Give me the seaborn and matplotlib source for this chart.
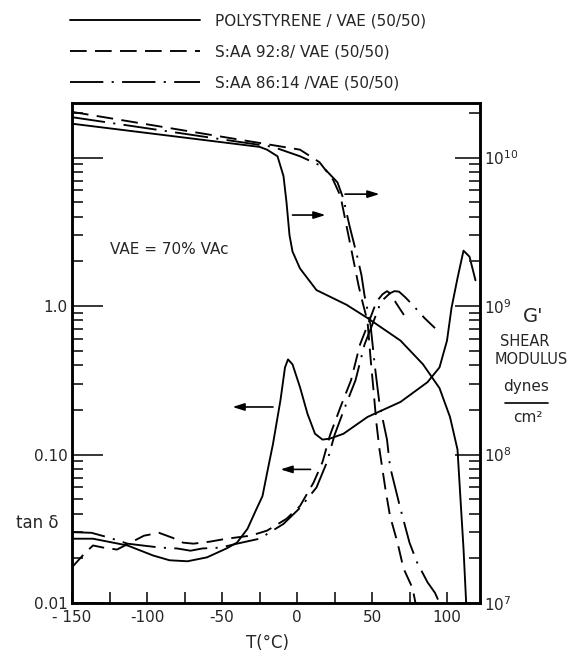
import numpy as np
import pandas as pd
import matplotlib
matplotlib.use("Agg")
import matplotlib.pyplot as plt
import seaborn as sns
from matplotlib.lines import Line2D
from matplotlib.ticker import FixedLocator, LogLocator, NullFormatter

# ---------------- data ----------------
series_labels = ["POLYSTYRENE / VAE (50/50)", "S:AA 92:8/ VAE (50/50)", "S:AA 86:14 /VAE (50/50)"]

# tan delta (left axis)
ps_tan_T = [-150, -136, -113, -96, -85, -73, -60, -47, -40, -33, -27, -23, -20, -16, -11, -8, -6, -3,
            2, 7, 12, 17, 22, 31, 47, 69, 87, 95, 100, 103, 107, 111, 115, 119]
ps_tan = [0.0271, 0.0271, 0.0244, 0.0209, 0.0194, 0.0191, 0.0203, 0.0233, 0.0255, 0.0316, 0.0430, 0.0525,
          0.0746, 0.118, 0.233, 0.386, 0.437, 0.405, 0.284, 0.188, 0.138, 0.126, 0.128, 0.138, 0.179,
          0.226, 0.307, 0.386, 0.585, 0.97, 1.54, 2.36, 2.15, 1.49]

s92_tan_T = [-150, -141, -136, -129, -120, -111, -102, -92, -83, -76, -69, -58, -47, -31, -20, -7, 2,
             11, 17, 22, 29, 36, 42, 47, 53, 57, 60, 63, 66, 74]
s92_tan = [0.0174, 0.0219, 0.0244, 0.0236, 0.0229, 0.0255, 0.0284, 0.0297, 0.0275, 0.0255, 0.0251,
           0.0259, 0.0271, 0.0284, 0.0307, 0.0369, 0.045, 0.0646, 0.089, 0.135, 0.209, 0.316, 0.55,
           0.74, 1.07, 1.2, 1.26, 1.2, 1.05, 0.79]

s86_tan_T = [-150, -137, -125, -113, -103, -91, -80, -71, -63, -51, -40, -25, -9, 2,
             13, 20, 25, 32, 39, 45, 50, 56, 62, 65, 68, 72, 77, 85, 92]
s86_tan = [0.0300, 0.0297, 0.0275, 0.0251, 0.0244, 0.0236, 0.0233, 0.0225, 0.0233, 0.0236, 0.0251,
           0.0271, 0.0341, 0.0437, 0.0600, 0.089, 0.135, 0.209, 0.316, 0.55, 0.74, 1.07, 1.22, 1.26,
           1.25, 1.15, 1.02, 0.83, 0.71]

# shear modulus G' (right axis, dynes/cm^2)
ps_mod_T = [-150, -25, -20, -13, -9, -7, -5, -3, 2, 13, 33, 47, 69, 84, 95, 102, 107, 109, 111, 113]
ps_mod = [1.69e10, 1.18e10, 1.13e10, 1.02e10, 7.5e9, 5.0e9, 3.0e9, 2.33e9, 1.79e9, 1.28e9, 1.02e9, 8.3e8,
          5.85e8, 4.05e8, 2.8e8, 1.79e8, 1.08e8, 5.0e7, 2.33e7, 9.0e6]

s92_mod_T = [-150, 2, 15, 24, 29, 33, 37, 41, 43, 47, 49, 51, 53, 55, 59, 62, 67, 71, 77, 79]
s92_mod = [2.03e10, 1.13e10, 9.3e9, 7.1e9, 5.5e9, 3.47e9, 2.19e9, 1.38e9, 1.13e9, 7.9e8, 4.5e8,
           2.71e8, 1.61e8, 1.08e8, 5.8e7, 3.86e7, 2.55e7, 1.71e7, 1.26e7, 1.0e7]

s86_mod_T = [-150, -16, 2, 17, 27, 31, 35, 40, 43, 45, 49, 52, 55, 60, 62, 69, 75, 80, 87, 92, 95]
s86_mod = [1.87e10, 1.18e10, 1.02e10, 8.7e9, 6.8e9, 5.25e9, 3.47e9, 2.19e9, 1.61e9, 1.18e9, 7.5e8,
           3.86e8, 2.19e8, 1.26e8, 8.3e7, 4.3e7, 2.55e7, 1.88e7, 1.38e7, 1.17e7, 1.0e7]

# arrows: (tail T, head T, tan-delta level)
arrow_tail_T = [32, -3, -16, 9]
arrow_head_T = [55, 19, -43, -11]
arrow_level = [5.67, 4.10, 0.209, 0.0794]

x_ticks = [-150, -100, -50, 0, 50, 100]
x_tick_labels = ["- 150", "-100", "-50", "0", "50", "100"]
x_minor_ticks = [-125, -75, -25, 25, 75]
left_ticks = [0.01, 0.1, 1.0, 10.0]
left_tick_labels = ["0.01", "0.10", "1.0", ""]
right_ticks = [1e7, 1e8, 1e9, 1e10]
right_tick_labels = [r"$10^7$", r"$10^8$", r"$10^9$", r"$10^{10}$"]

# ---------------- style ----------------
sns.set_style("ticks")
plt.rcParams["font.family"] = ["DejaVu Sans"]
plt.rcParams["lines.scale_dashes"] = False
FS = 11

styles = ["-", (0, (12, 6)), (0, (24, 6, 1.5, 6))]
LW = 1.35

fig = plt.figure(figsize=(5.71, 6.54), dpi=100)
ax = fig.add_axes([72 / 571, 1 - 603 / 654, 408 / 571, 500 / 654])
ax2 = ax.twinx()
ax.set_yscale("log")
ax2.set_yscale("log")

tan_sets = [(ps_tan_T, ps_tan), (s92_tan_T, s92_tan), (s86_tan_T, s86_tan)]
mod_sets = [(ps_mod_T, ps_mod), (s92_mod_T, s92_mod), (s86_mod_T, s86_mod)]

handles = []
for (T, v), ls in zip(tan_sets, styles):
    df = pd.DataFrame({"T": T, "v": v})
    sns.lineplot(data=df, x="T", y="v", ax=ax, color="black", lw=LW, linestyle=ls,
                 estimator=None, sort=False)
    handles.append(ax.lines[-1])
for (T, v), ls in zip(mod_sets, styles):
    df = pd.DataFrame({"T": T, "v": v})
    sns.lineplot(data=df, x="T", y="v", ax=ax2, color="black", lw=LW, linestyle=ls,
                 estimator=None, sort=False)

for t0, t1, lvl in zip(arrow_tail_T, arrow_head_T, arrow_level):
    ax.annotate("", xy=(t1, lvl), xytext=(t0, lvl),
                arrowprops=dict(arrowstyle="-|>,head_length=0.7,head_width=0.22",
                                color="black", lw=1.2, shrinkA=0, shrinkB=0))

ax.set_xlim(-150, 122)
ax.set_ylim(0.01, 23.3)
ax2.set_ylim(1e7, 2.33e10)

ax.set_xticks(x_ticks)
ax.set_xticklabels(x_tick_labels, fontsize=FS)
ax.xaxis.set_minor_locator(FixedLocator(x_minor_ticks))
ax.tick_params(axis="x", which="both", direction="in", length=8, width=1.3, top=False, pad=5)

ax.set_yticks(left_ticks)
ax.set_yticklabels(left_tick_labels, fontsize=FS)
ax.yaxis.set_minor_locator(LogLocator(base=10, subs=np.arange(2, 10)))
ax.yaxis.set_minor_formatter(NullFormatter())
ax.tick_params(axis="y", which="major", direction="in", length=22, width=1.3, pad=3)
ax.tick_params(axis="y", which="minor", direction="in", length=8, width=1.3)

ax2.set_yticks(right_ticks)
ax2.set_yticklabels(right_tick_labels, fontsize=FS)
ax2.yaxis.set_minor_locator(LogLocator(base=10, subs=np.arange(2, 10)))
ax2.yaxis.set_minor_formatter(NullFormatter())
ax2.tick_params(axis="y", which="major", direction="in", length=18, width=1.3, pad=3)
ax2.tick_params(axis="y", which="minor", direction="in", length=8, width=1.3)

for a in (ax, ax2):
    for s in a.spines.values():
        s.set_linewidth(1.8)
        s.set_color("black")
        s.set_visible(True)

ax.set_xlabel("T(°C)", fontsize=FS + 1)
ax.xaxis.set_label_coords((268 - 72) / 408, -(643 - 603) / 500)
ax.xaxis.label.set_va("center")
ax.set_ylabel("tan δ", fontsize=FS + 1, rotation=0)
ax.yaxis.set_label_coords((37 - 72) / 408, (603 - 523) / 500)
ax.yaxis.label.set_va("center")
ax.yaxis.label.set_ha("center")
ax2.set_ylabel("")

ax.text((110 - 72) / 408, (603 - 250) / 500, "VAE = 70% VAc", transform=ax.transAxes,
        ha="left", va="center", fontsize=FS)

# right-hand axis title
fig.text(533 / 571, 1 - 317 / 654, "G'", ha="center", va="center", fontsize=FS + 3)
fig.text(525 / 571, 1 - 342 / 654, "SHEAR", ha="center", va="center", fontsize=FS - 0.5)
fig.text(531 / 571, 1 - 360 / 654, "MODULUS", ha="center", va="center", fontsize=FS - 0.5)
fig.text(526 / 571, 1 - 387 / 654, "dynes", ha="center", va="center", fontsize=FS)
fig.text(528 / 571, 1 - 418 / 654, "cm²", ha="center", va="center", fontsize=FS)
fig.add_artist(Line2D([505 / 571, 548 / 571], [1 - 403 / 654, 1 - 403 / 654],
                      transform=fig.transFigure, color="black", lw=1.2))

fig.legend(handles, series_labels, loc="upper left",
           bbox_to_anchor=(70 / 571, 1 - 13 / 654), frameon=False, fontsize=FS,
           handlelength=8.5, handletextpad=1.0, labelspacing=1.05, borderpad=0,
           borderaxespad=0)

fig.savefig("out.png", dpi=100)
